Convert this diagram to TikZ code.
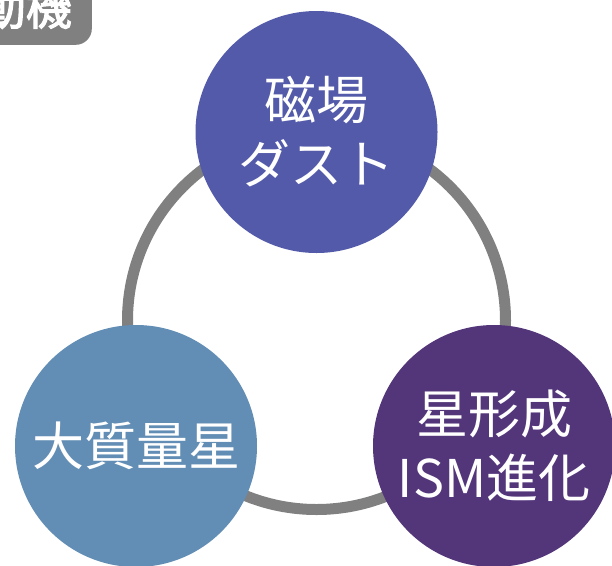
\documentclass[tikz,border=0pt]{standalone}
\usepackage{fontspec}
\newfontfamily\cjk[AutoFakeBold=2.5]{Noto Sans CJK JP}
\usetikzlibrary{positioning}
\definecolor{magblue}{RGB}{83,90,169}
\definecolor{starblue}{RGB}{98,141,180}
\definecolor{ismpurple}{RGB}{83,53,122}
\definecolor{ringgray}{RGB}{128,128,128}
\tikzstyle{topic} = [circle, minimum size=242pt, inner sep=0pt, text=white,
align=center, font=\cjk\fontsize{52}{64}\selectfont]
\tikzstyle{ring} = [draw=ringgray, line width=11pt]
\tikzstyle{tag} = [rectangle, rounded corners=16pt, fill=ringgray, text=white,
inner xsep=20pt, inner ysep=16pt, font=\cjk\bfseries\fontsize{46}{46}\selectfont]

\begin{document}
\begin{tikzpicture}[x=1pt,y=-1pt]
  \clip (0,0) rectangle (612,565);
  \coordinate (hub) at (316.5,320.5);
  \draw[ring] (hub) circle (189pt);

  \node[topic, fill=magblue] (mag) at (316.5,132) {磁場\\ダスト};
  \node[topic, fill=starblue] (mass) at (136,446) {大質量星};
  \node[topic, fill=ismpurple] (ism) at (494,446) {星形成\\ISM進化};

  \node[tag, anchor=south east] (motive) at (92,45) {動機};
\end{tikzpicture}
\end{document}
